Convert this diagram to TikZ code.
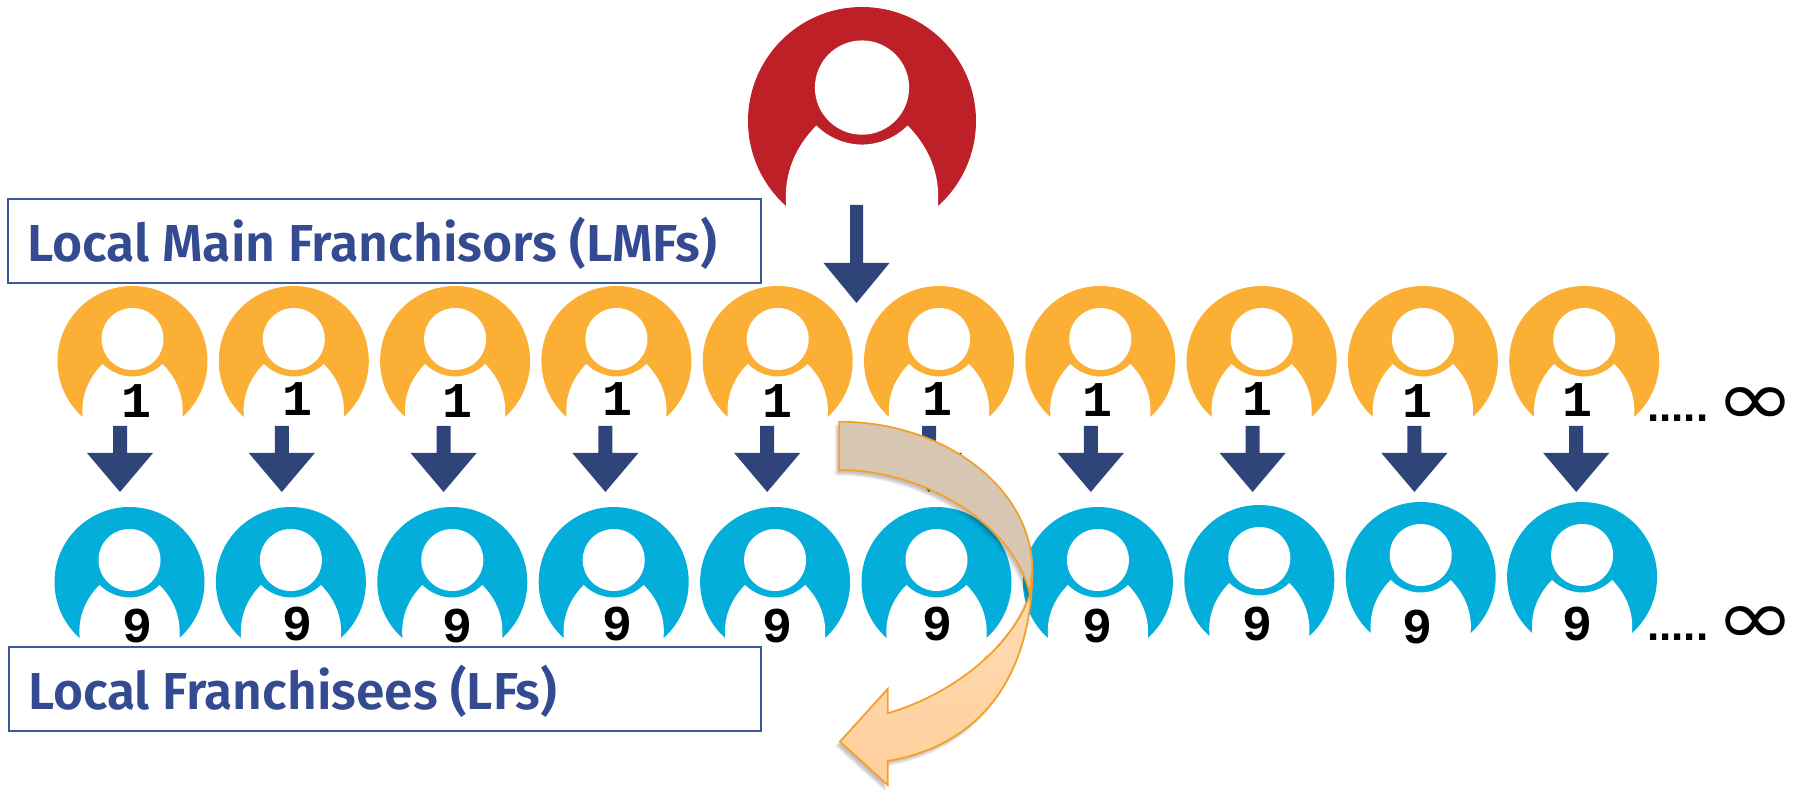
\documentclass[tikz,border=0pt]{standalone}
\usepackage{fontspec}
\setmainfont{Fira Sans}[UprightFont=* SemiBold,BoldFont=* SemiBold]
\newfontfamily\digitfont{Liberation Mono}
\newfontfamily\dotfont{Liberation Sans}
\newfontfamily\inffont{DejaVu Sans}
\usetikzlibrary{shadows.blur}
\definecolor{lmfOrange}{HTML}{FBAF35}
\definecolor{lfBlue}{HTML}{04AEDB}
\definecolor{topRed}{HTML}{BD2127}
\definecolor{navy}{HTML}{2F4579}
\definecolor{boxEdge}{HTML}{3A59A0}
\definecolor{boxText}{HTML}{344B92}
\definecolor{curveEdge}{HTML}{F5A02C}
\definecolor{curveBack}{HTML}{D6C6B2}
\definecolor{curveFrontA}{HTML}{FEDDB8}
\definecolor{curveFrontB}{HTML}{FFCF9A}
\tikzset{
  person/.pic={
    \path[pic actions] (0,0) circle (75);
    \fill[white] (0,-22) circle (31);
    \fill[white] (-50,53) .. controls (-51,36) and (-45,18) .. (-30,3)
      .. controls (-22,11) and (-11,15.5) .. (0,15.5)
      .. controls (11,15.5) and (22,11) .. (30,3)
      .. controls (45,18) and (51,36) .. (50,53)
      -- (50,76) -- (-50,76) -- cycle;
  },
  labelbox/.style={draw=boxEdge,line width=2.2pt},
  labeltext/.style={anchor=base west,inner sep=0pt,text=boxText,font=\fontsize{52}{60}\selectfont},
  digit/.style={anchor=base,inner sep=0pt,font=\digitfont\bfseries\fontsize{50}{50}\selectfont},
  dotrow/.style={anchor=base west,inner sep=0pt,font=\dotfont\bfseries\fontsize{44}{45}\selectfont},
  infsign/.style={anchor=center,inner sep=0pt,font=\inffont\fontsize{78}{78}\selectfont},
  curveshape/.style={draw=curveEdge,line width=1.8pt,line join=miter}
}
\newcommand{\downblock}[6]{% x, top, neck, tip, shaft half width, head half width
  \fill[navy] ({#1-#5},#2) -- ({#1+#5},#2) -- ({#1+#5},#3) -- ({#1+#6},#3) -- (#1,#4)
    -- ({#1-#6},#3) -- ({#1-#5},#3) -- cycle;}
\begin{document}
\begin{tikzpicture}[x=1pt,y=-1pt]
\useasboundingbox (0,0) rectangle (1805,791);
% people
\pic[fill=topRed,scale=1.52] at (862,121) {person};
\foreach \i in {0,...,9} {
  \pic[fill=lmfOrange] at ({132.5+161.3*\i},361) {person};
}
\foreach \i/\yy in {0/582,1/582,2/582,3/582,4/582,5/582,6/582,7/580,8/577,9/577} {
  \pic[fill=lfBlue] at ({129.5+161.4*\i},\yy) {person};
}
% arrows
\downblock{856.5}{205}{263}{303}{6.5}{33}
\foreach \i in {0,...,9} {
  \pgfmathsetmacro{\ax}{120+161.8*\i}
  \downblock{\ax}{426}{453}{492}{7}{33}
}
% label boxes
\node[labelbox,minimum width=753pt,minimum height=84pt,anchor=north west,inner sep=0pt] (lmfbox) at (7,198) {};
\node[labelbox,minimum width=752pt,minimum height=84pt,anchor=north west,inner sep=0pt] (lfbox) at (8,646) {};
\node[labeltext] (lmftext) at (27,262) {\resizebox{690pt}{\height}{Local Main Franchisors (LMFs)}};
\node[labeltext] (lftext) at (28,709) {\resizebox{529pt}{\height}{Local Franchisees (LFs)}};
% digits
\foreach \i/\yy in {0/418,1/416,2/418,3/416,4/418,5/416,6/417,7/416,8/418,9/417} {
  \node[digit] (one\i) at ({137+160*\i},\yy) {1};
}
\foreach \i/\yy in {0/642,1/640,2/642,3/640,4/642,5/640,6/642,7/640,8/643,9/640} {
  \node[digit] (nine\i) at ({137.5+160*\i},\yy) {9};
}
% dots and infinity
\node[dotrow] (dotsa) at (1647,422) {.....};
\node[dotrow] (dotsb) at (1647,640) {.....};
\node[infsign] (infa) at (1755,407) {\resizebox{80pt}{\height}{∞}};
\node[infsign] (infb) at (1755,626) {\resizebox{80pt}{\height}{∞}};
% curved arrow: shadow under whole outline, then back and front bands
\path[fill=white,blur shadow={shadow xshift=-3pt,shadow yshift=-4pt,shadow blur steps=6,shadow opacity=24}]
  (839.3,421.7) .. controls (945,421.7) and (1032.3,488.6) .. (1032.3,570)
  .. controls (1032.3,670) and (985,745) .. (887.7,761)
  -- (887.7,785) -- (840,741.7) -- (887.7,689) -- (887.7,713.3)
  .. controls (950,695) and (1010,650) .. (1030,595)
  .. controls (1015,525) and (925,470) .. (839.3,470) -- cycle;
\filldraw[curveshape,fill=curveBack]
  (839.3,421.7) .. controls (945,421.7) and (1032.3,488.6) .. (1032.3,570)
  -- (1030,595) .. controls (1015,525) and (925,470) .. (839.3,470) -- cycle;
\draw[curveshape,top color=curveFrontA,bottom color=curveFrontB]
  (1030,595) .. controls (1010,650) and (950,695) .. (887.7,713.3)
  -- (887.7,689) -- (840,741.7) -- (887.7,785) -- (887.7,761)
  .. controls (985,745) and (1032.3,670) .. (1032.3,570) -- cycle;
\end{tikzpicture}
\end{document}
